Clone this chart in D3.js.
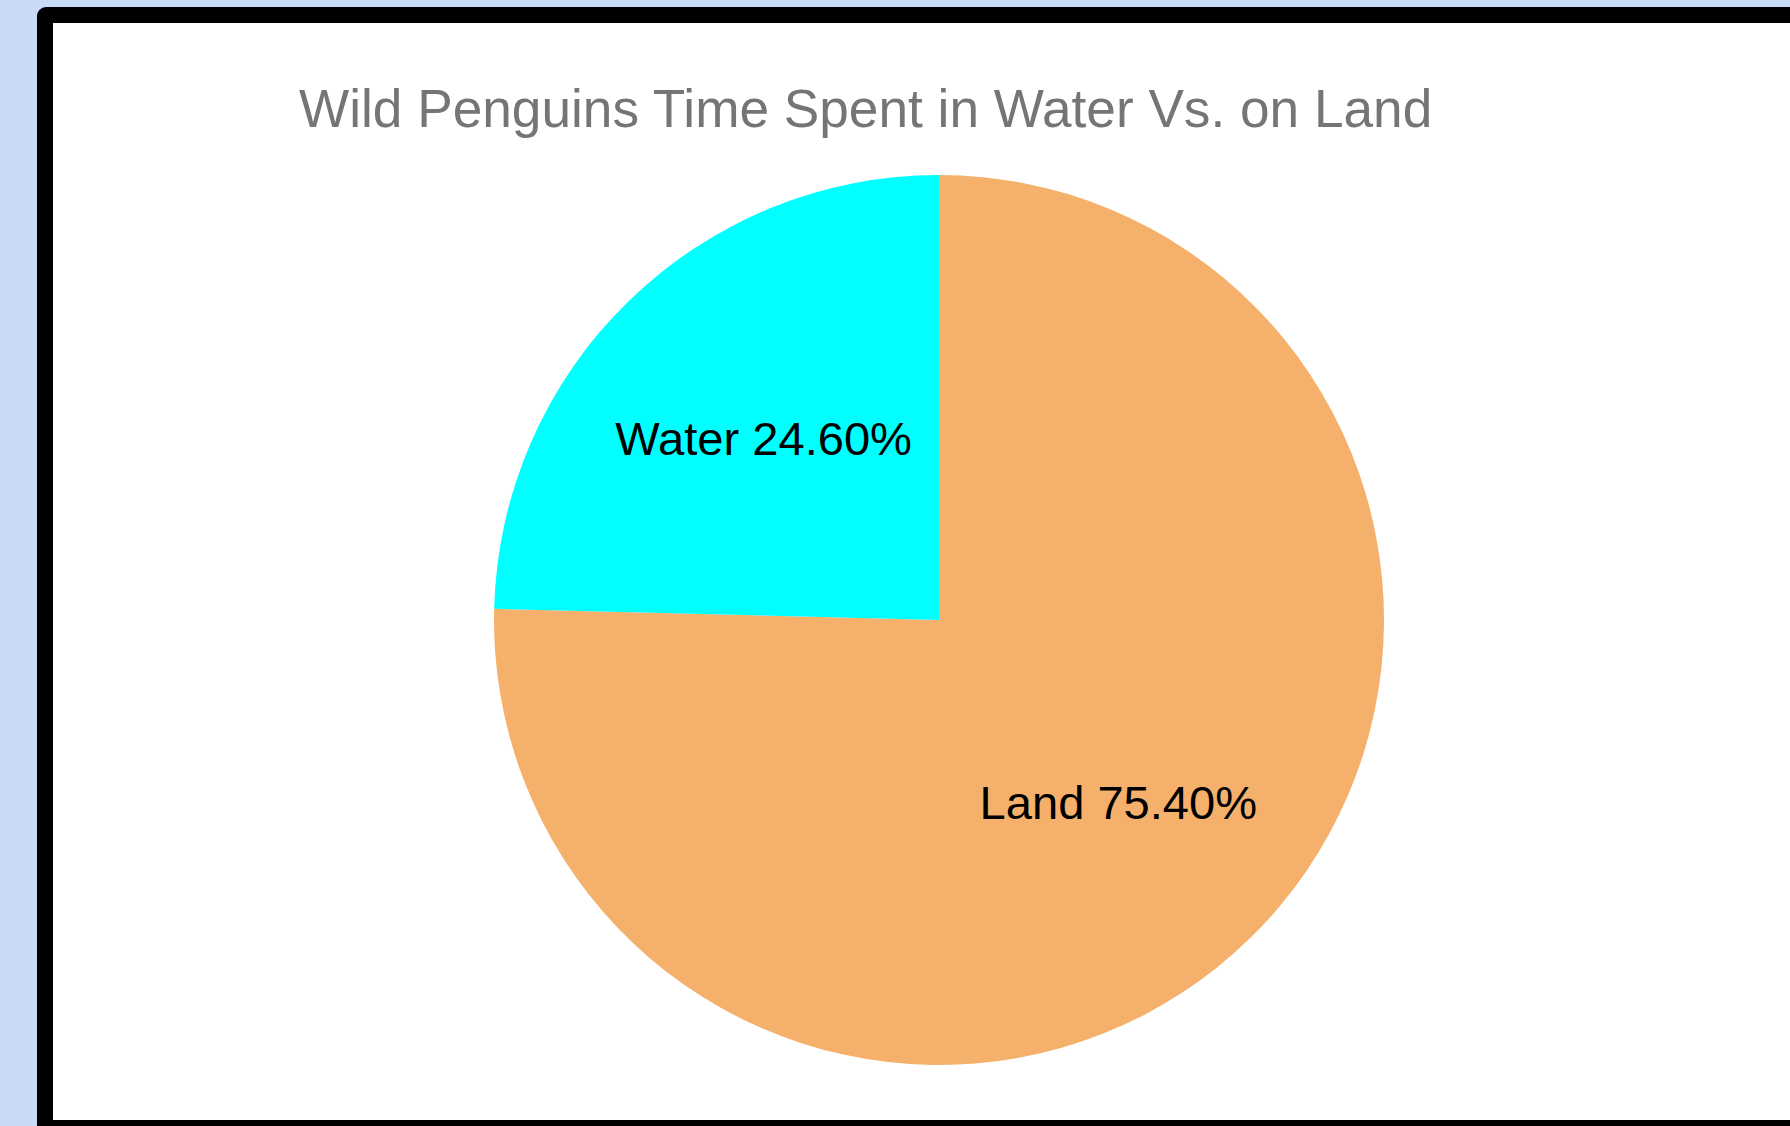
<!DOCTYPE html>
<html>
<head>
<meta charset="utf-8">
<script src="https://cdn.jsdelivr.net/npm/d3@7"></script>
<style>
  html, body { margin: 0; padding: 0; background: #c9daf8; overflow: hidden; }
  svg { display: block; }
</style>
</head>
<body>
<svg id="chart" width="1790" height="1126"></svg>
<script>
const title = "Wild Penguins Time Spent in Water Vs. on Land";
const categories = ["Land", "Water"];
const values = [75.4, 24.6];
const colors = ["#f5b16b", "#00ffff"];

const W = 1790, H = 1126;
const svg = d3.select("#chart");

// frame
svg.append("rect").attr("x", 37).attr("y", 7).attr("width", 1900).attr("height", 1300)
  .attr("rx", 9).attr("fill", "#000");
svg.append("rect").attr("x", 53).attr("y", 23).attr("width", 1900).attr("height", 1097)
  .attr("fill", "#fff");

// title
svg.append("text")
  .attr("x", 299).attr("y", 126.5)
  .attr("font-family", "'Liberation Sans', Arial, sans-serif")
  .attr("font-size", 53.2)
  .attr("fill", "#757575")
  .text(title);

const cx = 939, cy = 620, R = 445;
const data = categories.map((c, i) => ({ cat: c, value: values[i], color: colors[i] }));
const pie = d3.pie().sort(null).value(d => d.value);
const arc = d3.arc().innerRadius(0).outerRadius(R);
const labelArc = d3.arc().innerRadius(254).outerRadius(254);
const total = d3.sum(values);

const g = svg.append("g").attr("transform", `translate(${cx},${cy})`);
const arcs = pie(data);
g.selectAll("path").data(arcs).join("path")
  .attr("d", arc)
  .attr("fill", d => d.data.color);

g.selectAll("text.lbl").data(arcs).join("text")
  .attr("class", "lbl")
  .attr("transform", d => { const c = labelArc.centroid(d); return `translate(${c[0] + 2},${c[1]})`; })
  .attr("dy", "0.36em")
  .attr("text-anchor", "middle")
  .attr("font-family", "'Liberation Sans', Arial, sans-serif")
  .attr("font-size", 47.1)
  .attr("fill", "#000")
  .text(d => `${d.data.cat} ${(d.data.value / total * 100).toFixed(2)}%`);
</script>
</body>
</html>
